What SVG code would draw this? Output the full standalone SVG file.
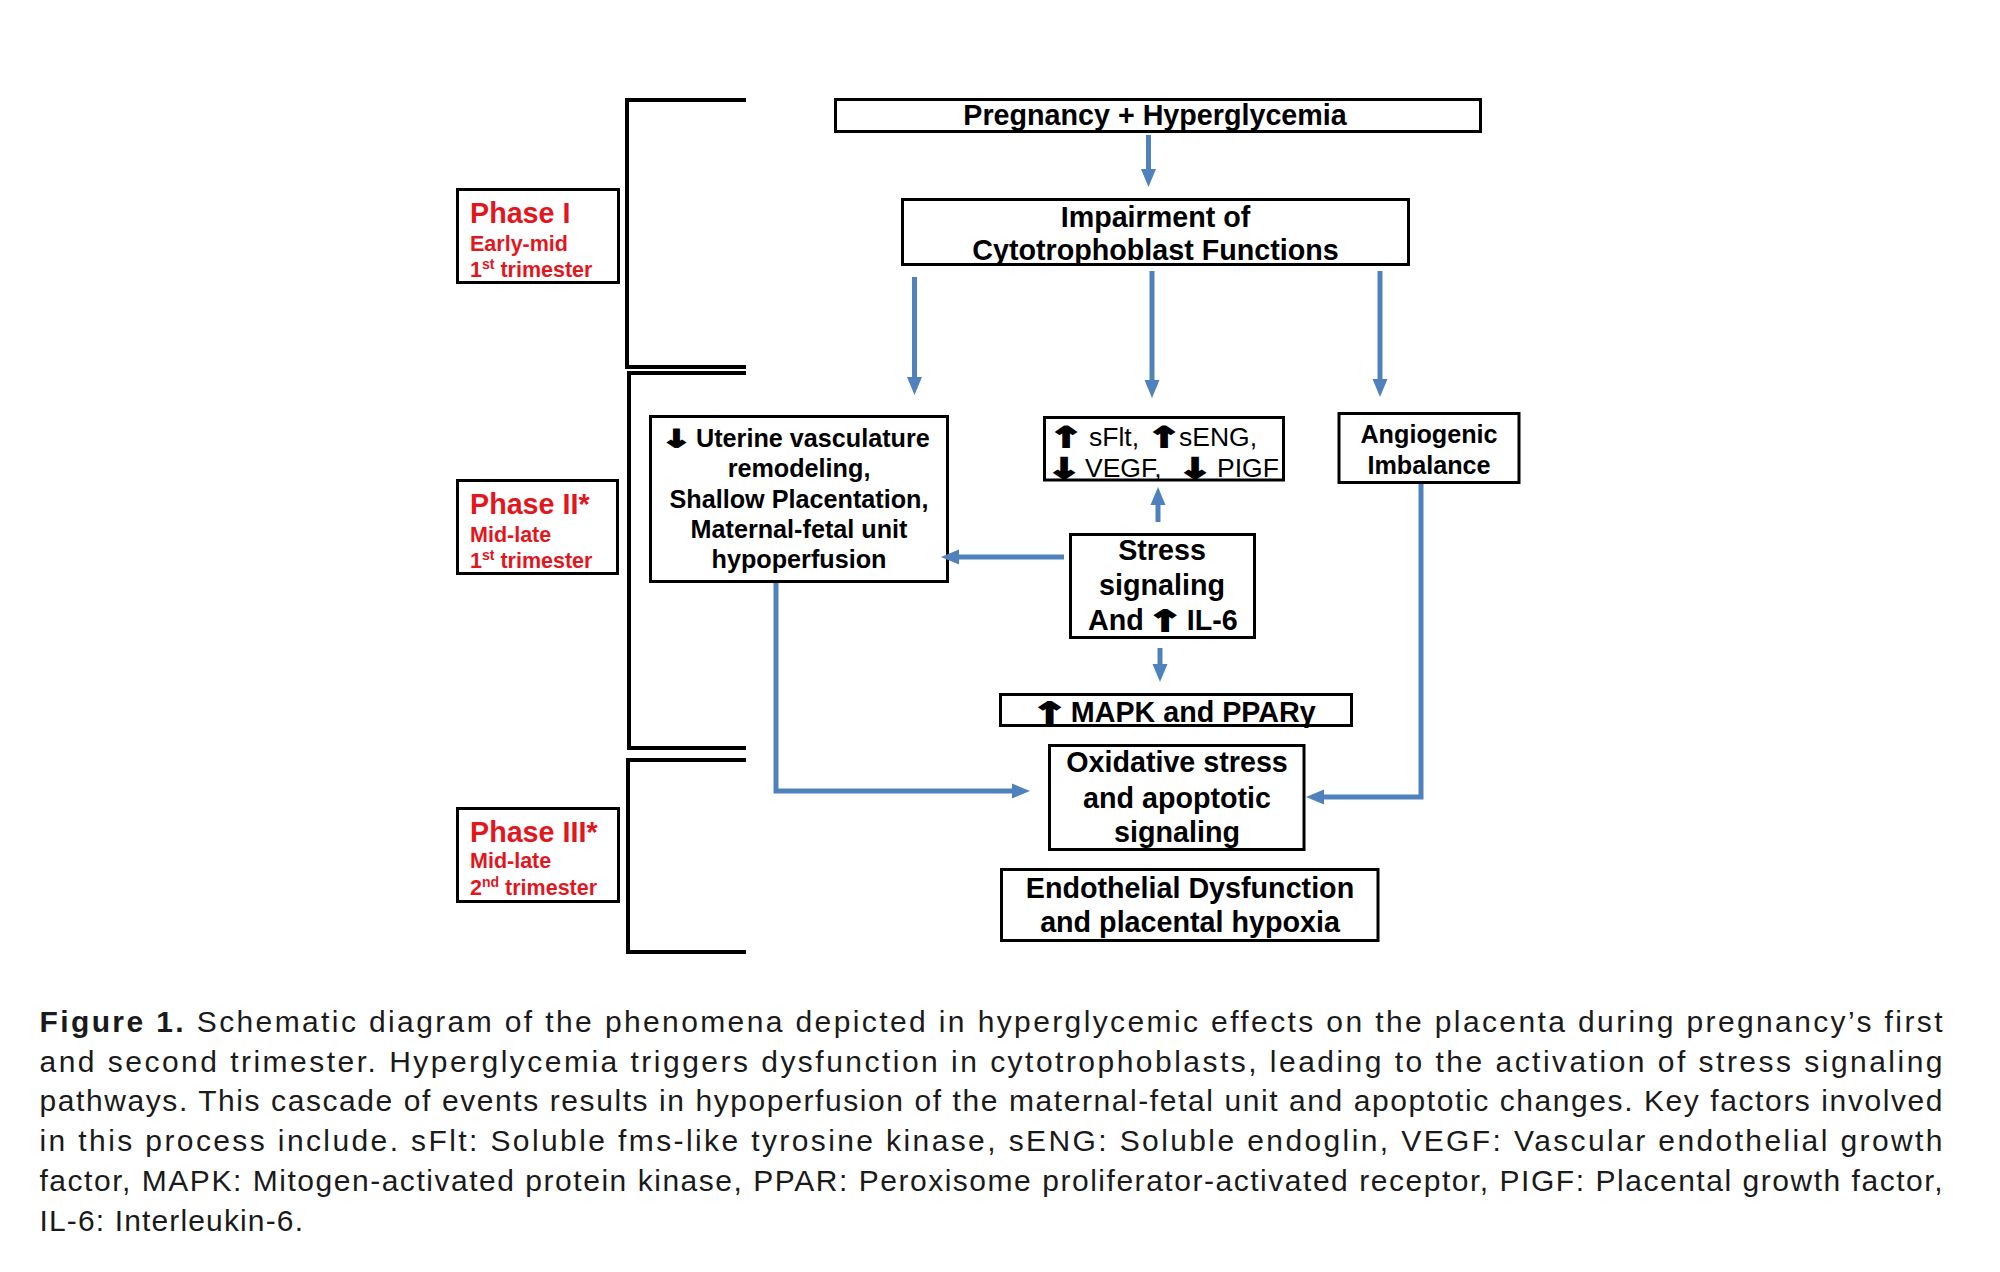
<svg xmlns="http://www.w3.org/2000/svg" width="2000" height="1272" viewBox="0 0 2000 1272">
<defs>
<marker id="ah" markerUnits="userSpaceOnUse" markerWidth="18" markerHeight="16" viewBox="0 0 18 16" refX="8" refY="8" orient="auto"><path d="M0,0.5 L18,8 L0,15.5 z" fill="#4f81bd"/></marker>
<style>
.box{fill:#fff;stroke:#000;stroke-width:3}
.br{fill:none;stroke:#000;stroke-width:4}
.c{fill:none;stroke:#4f81bd;stroke-width:5;marker-end:url(#ah)}
.t{font-family:"Liberation Sans",Arial,sans-serif;font-weight:bold;fill:#000;text-anchor:middle}
.s{font-family:"Liberation Sans",Arial,sans-serif;font-weight:bold;fill:#000}
.r{font-family:"Liberation Sans",Arial,sans-serif;font-weight:normal;fill:#000;font-size:26.5px}
.t28{font-size:28.7px}
.t25{font-size:25.2px}
.ph{font-family:"Liberation Sans",Arial,sans-serif;font-weight:bold;fill:#e3161e}
.arw{font-family:"DejaVu Sans",sans-serif;font-weight:bold;text-anchor:middle;fill:#000;stroke:#000;stroke-width:1.8;stroke-linejoin:miter}
.cap{font-family:"Liberation Sans",Arial,sans-serif;font-size:30px;fill:#1a1a1a}
</style>
</defs>
<rect width="2000" height="1272" fill="#fff"/>

<g id="brackets">
<path class="br" d="M746 100 H627 V367 H746"/>
<path class="br" d="M746 373 H629 V748 H746"/>
<path class="br" d="M746 760 H628 V952 H746"/>
</g>

<g id="phase1">
<rect class="box" x="457.5" y="189.5" width="161" height="93"/>
<text class="ph" x="470" y="222.7" font-size="28.7">Phase I</text>
<text class="ph" x="470" y="250.7" font-size="21.5">Early-mid</text>
<text class="ph" x="470" y="276.7" font-size="21.5">1<tspan font-size="14" dy="-8">st</tspan><tspan dy="8"> trimester</tspan></text>
</g>
<g id="phase2">
<rect class="box" x="457.5" y="480.5" width="160" height="93"/>
<text class="ph" x="470" y="514" font-size="28.7">Phase II*</text>
<text class="ph" x="470" y="542" font-size="21.5">Mid-late</text>
<text class="ph" x="470" y="568" font-size="21.5">1<tspan font-size="14" dy="-8">st</tspan><tspan dy="8"> trimester</tspan></text>
</g>
<g id="phase3">
<rect class="box" x="457.5" y="808.5" width="161" height="93"/>
<text class="ph" x="470" y="842" font-size="28.7">Phase III*</text>
<text class="ph" x="470" y="868" font-size="21.5">Mid-late</text>
<text class="ph" x="470" y="895" font-size="21.5">2<tspan font-size="14" dy="-8">nd</tspan><tspan dy="8"> trimester</tspan></text>
</g>

<g id="pregnancy">
<rect class="box" x="835.5" y="99.5" width="645" height="32"/>
<text class="t t28" x="1155" y="125">Pregnancy + Hyperglycemia</text>
</g>
<g id="impairment">
<rect class="box" x="902.5" y="199.5" width="506" height="65"/>
<text class="t t28" x="1155.5" y="226.7">Impairment of</text>
<text class="t t28" x="1155.5" y="260">Cytotrophoblast Functions</text>
</g>
<g id="uterine">
<rect class="box" x="650.5" y="416.5" width="297" height="165"/>
<text class="arw" font-size="24" transform="translate(676 447) scale(1.5 1)">↓</text>
<text class="s t25" x="696" y="446.7">Uterine vasculature</text>
<text class="t t25" x="799" y="476.7">remodeling,</text>
<text class="t t25" x="799" y="507.7">Shallow Placentation,</text>
<text class="t t25" x="799" y="537.7">Maternal-fetal unit</text>
<text class="t t25" x="799" y="567.7">hypoperfusion</text>
</g>
<g id="angiofactors">
<rect class="box" x="1044.5" y="417.5" width="239" height="62.5"/>
<text class="arw" font-size="28" transform="translate(1066 447) scale(1.5 1)">↑</text>
<text class="r" x="1089" y="446">sFlt,</text>
<text class="arw" font-size="28" transform="translate(1164 447) scale(1.5 1)">↑</text>
<text class="r" x="1179" y="446">sENG,</text>
<text class="arw" font-size="28" transform="translate(1064 478) scale(1.5 1)">↓</text>
<text class="r" x="1085" y="477">VEGF,</text>
<text class="arw" font-size="28" transform="translate(1195 478) scale(1.5 1)">↓</text>
<text class="r" x="1217" y="477">PIGF</text>
</g>
<g id="angiogenic">
<rect class="box" x="1339" y="413.5" width="180" height="69"/>
<text class="t t25" x="1429" y="443">Angiogenic</text>
<text class="t t25" x="1429" y="474">Imbalance</text>
</g>
<g id="stress">
<rect class="box" x="1070.5" y="534.5" width="184" height="103"/>
<text class="t t28" x="1162" y="560">Stress</text>
<text class="t t28" x="1162" y="595">signaling</text>
<text class="s t28" x="1088" y="630">And</text>
<text class="arw" font-size="29" transform="translate(1165 631) scale(1.5 1)">↑</text>
<text class="s t28" x="1186.8" y="630">IL-6</text>
</g>
<g id="mapk">
<rect class="box" x="1000.5" y="694.5" width="351" height="31"/>
<text class="arw" font-size="29" transform="translate(1049.5 723) scale(1.5 1)">↑</text>
<text class="s t28" x="1070.8" y="722">MAPK and PPARγ</text>
</g>
<g id="oxidative">
<rect class="box" x="1049.5" y="745.5" width="254.5" height="104"/>
<text class="t t28" x="1177" y="772">Oxidative stress</text>
<text class="t t28" x="1177" y="808">and apoptotic</text>
<text class="t t28" x="1177" y="842">signaling</text>
</g>
<g id="endothelial">
<rect class="box" x="1001.5" y="869.5" width="376.5" height="71"/>
<text class="t t28" x="1190" y="898">Endothelial Dysfunction</text>
<text class="t t28" x="1190" y="932">and placental hypoxia</text>
</g>

<g id="connectors">
<path class="c" d="M1148.5 135 V177"/>
<path class="c" d="M914.5 277 V385"/>
<path class="c" d="M1152 271 V388"/>
<path class="c" d="M1380 271 V387"/>
<path class="c" d="M1158 522 V497"/>
<path class="c" d="M1064 557 H951"/>
<path class="c" d="M1160 648 V672"/>
<path class="c" d="M776 583 V791 H1020"/>
<path class="c" d="M1421 484 V797 H1316"/>
</g>

<g id="caption">
<text class="cap" x="39.5" y="1032" textLength="1903" lengthAdjust="spacing"><tspan font-weight="bold">Figure 1.</tspan> Schematic diagram of the phenomena depicted in hyperglycemic effects on the placenta during pregnancy’s first</text>
<text class="cap" x="39.5" y="1071.7" textLength="1903" lengthAdjust="spacing">and second trimester. Hyperglycemia triggers dysfunction in cytotrophoblasts, leading to the activation of stress signaling</text>
<text class="cap" x="39.5" y="1111.4" textLength="1903" lengthAdjust="spacing">pathways. This cascade of events results in hypoperfusion of the maternal-fetal unit and apoptotic changes. Key factors involved</text>
<text class="cap" x="39.5" y="1151.1" textLength="1903" lengthAdjust="spacing">in this process include. sFlt: Soluble fms-like tyrosine kinase, sENG: Soluble endoglin, VEGF: Vascular endothelial growth</text>
<text class="cap" x="39.5" y="1190.8" textLength="1903" lengthAdjust="spacing">factor, MAPK: Mitogen-activated protein kinase, PPAR: Peroxisome proliferator-activated receptor, PIGF: Placental growth factor,</text>
<text class="cap" x="39.5" y="1230.5" textLength="263.5" lengthAdjust="spacing">IL-6: Interleukin-6.</text>
</g>
</svg>
